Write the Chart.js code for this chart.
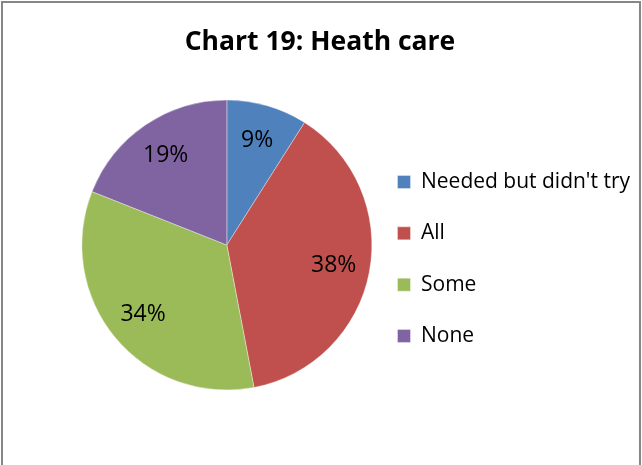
<!DOCTYPE html>
<html>
<head>
<meta charset="utf-8">
<script src="https://cdn.jsdelivr.net/npm/chart.js@4.4.1/dist/chart.umd.min.js"></script>
<style>
  html, body { margin: 0; padding: 0; background: #fff; overflow: hidden; }
  #wrap { position: relative; width: 642px; height: 465px; }
  #frame {
    position: absolute; left: 1px; top: 1px; width: 636px; height: 470px;
    border: 2px solid #868686; border-bottom: none; pointer-events: none;
  }
  canvas { position: absolute; left: 0; top: 0; }
</style>
</head>
<body>
<div id="wrap">
  <canvas id="pieChart" width="642" height="465"></canvas>
  <div id="frame"></div>
</div>
<script>
  const chartTitle = 'Chart 19: Heath care';
  const categories = ["Needed but didn't try", 'All', 'Some', 'None'];
  const shares = [9, 38, 34, 19];
  const sliceColors = ['#4F81BD', '#C0504D', '#9BBB59', '#8064A2'];

  const FONT = "'Open Sans', sans-serif";
  const PIE_LEFT = 86.5;

  // title stays centred on the whole canvas, the pie sits between PIE_LEFT and the legend
  const pieArea = {
    id: 'pieArea',
    afterLayout(chart) {
      const area = chart.chartArea;
      area.left = PIE_LEFT;
      area.width = area.right - area.left;
    }
  };

  // percent text inside each slice, along the middle angle
  const sliceLabels = {
    id: 'sliceLabels',
    afterDatasetsDraw(chart) {
      const ctx = chart.ctx;
      const meta = chart.getDatasetMeta(0);
      const data = chart.data.datasets[0].data;
      ctx.save();
      ctx.font = '23px ' + FONT;
      ctx.fillStyle = '#000';
      ctx.textAlign = 'center';
      ctx.textBaseline = 'middle';
      meta.data.forEach((arc, i) => {
        const { x, y, startAngle, endAngle, outerRadius } = arc.getProps(['x', 'y', 'startAngle', 'endAngle', 'outerRadius'], true);
        const mid = (startAngle + endAngle) / 2;
        const r = outerRadius * 0.75;
        ctx.fillText(data[i] + '%', x + Math.cos(mid) * r, y + Math.sin(mid) * r);
      });
      ctx.restore();
    }
  };

  function renderChart() {
    const ctx = document.getElementById('pieChart').getContext('2d');
    new Chart(ctx, {
      type: 'pie',
      data: {
        labels: categories,
        datasets: [{
          data: shares,
          backgroundColor: sliceColors,
          borderColor: 'rgba(255,255,255,0.6)',
          borderWidth: 0.6,
          radius: 145
        }]
      },
      options: {
        responsive: false,
        animation: false,
        layout: { padding: { left: 0, right: 2, top: 0, bottom: 75 } },
        plugins: {
          title: {
            display: true,
            text: chartTitle,
            color: '#000',
            font: { family: FONT, size: 26.5, weight: 'bold', lineHeight: 1.2 },
            padding: { top: 27, bottom: 41.2 }
          },
          legend: {
            position: 'right',
            fullSize: false,
            // empty title just pushes the entries down a little
            title: { display: true, text: '', font: { size: 28, lineHeight: 1 }, padding: 0 },
            labels: {
              boxWidth: 13,
              boxHeight: 13,
              padding: 30.3,
              color: '#000',
              font: { family: FONT, size: 21 }
            }
          },
          tooltip: { enabled: false }
        }
      },
      plugins: [pieArea, sliceLabels]
    });
  }

  document.addEventListener('DOMContentLoaded', renderChart);
</script>
</body>
</html>
